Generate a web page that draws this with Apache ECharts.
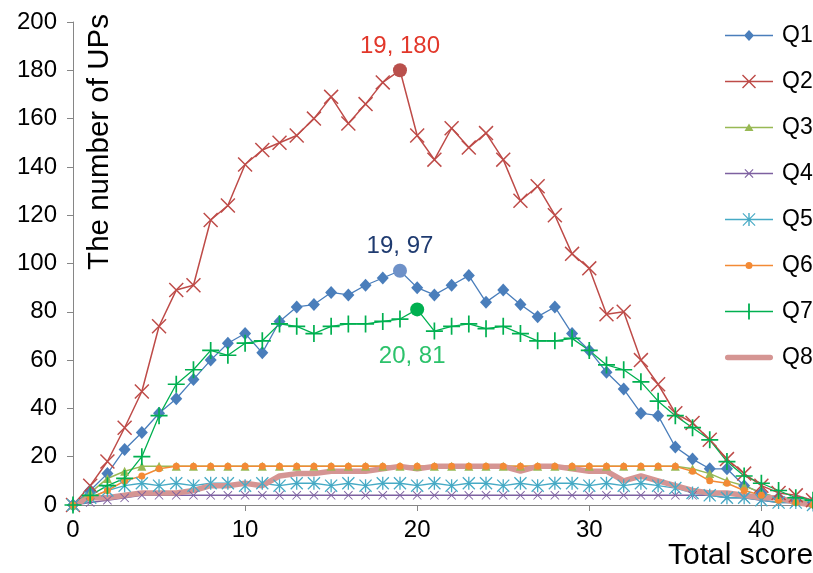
<!DOCTYPE html>
<html><head><meta charset="utf-8">
<script src="https://cdn.jsdelivr.net/npm/echarts@6/dist/echarts.min.js"></script>
<style>html,body{margin:0;padding:0;background:#fff}#c{width:813px;height:573px}</style>
</head><body><div id="c"></div>
<script>
const scores = [0,1,2,3,4,5,6,7,8,9,10,11,12,13,14,15,16,17,18,19,20,21,22,23,24,25,26,27,28,29,30,31,32,33,34,35,36,37,38,39,40,41,42,43];
const Q1 = [0,6,13,23,30,38,44,52,60,67,71,63,76,82,83,88,87,91,94,97,90,87,91,95,84,89,83,78,82,71,64,55,48,38,37,24,19,15,15,8,5,3,2,1];
const Q2 = [0,8,18,32,47,74,89,91,118,124,141,147,150,153,160,169,158,166,175,180,153,143,156,148,154,143,126,132,120,104,98,79,80,60,50,38,34,27,19,13,8,5,4,2];
const Q3 = [0,5,11,14,16,16,16,16,16,16,16,16,16,16,16,16,16,16,16,16,16,16,16,16,16,16,16,16,16,16,16,16,16,16,16,16,15,13,10,8,5,3,2,1];
const Q4 = [0,1,2,3,4,4,4,4,4,4,4,4,4,4,4,4,4,4,4,4,4,4,4,4,4,4,4,4,4,4,4,4,4,4,4,4,4,4,3,3,2,1,1,0];
const Q5 = [0,3,6,8,9,8,9,8,9,9,8,9,8,9,9,8,9,8,9,9,8,9,8,9,9,8,9,8,9,9,8,9,8,9,8,7,5,4,3,3,2,1,1,0];
const Q6 = [0,3,6,10,12,15,16,16,16,16,16,16,16,16,16,16,16,16,16,16,16,16,16,16,16,16,16,16,16,16,16,16,16,16,16,16,14,10,9,6,4,2,1,0];
const Q7 = [0,4,8,11,20,37,50,56,64,62,67,68,75,74,71,74,75,75,76,77,81,72,74,75,73,74,71,68,68,69,64,58,56,51,43,37,32,27,18,12,9,6,3,2];
const Q8 = [0,3,3,4,5,5,5,6,8,8,9,8,12,13,13,14,14,14,15,16,15,16,16,16,16,16,14,16,16,15,14,14,10,12,10,8,6,5,5,4,3,3,1,0];
const xTicks = [0,10,20,30,40];
const yTicks = [0,20,40,60,80,100,120,140,160,180,200];
// highlighted maxima: series name, score
const highlights = [
  {name:'Q2', score:19, color:'#B9504C', label:'#E2372A', pos:'top', dist:5, off:[0,0]},
  {name:'Q1', score:19, color:'#6E91C8', label:'#1F3B70', pos:'top', dist:5, off:[0,0]},
  {name:'Q7', score:20, color:'#00B050', label:'#2CC26B', pos:'bottom', dist:28, off:[-5,0]}
];

const FONT = 'Liberation Sans';
// series marker shapes
const X_PATH = 'path://M0,1.4L1.4,0L20,18.6L18.6,20ZM18.6,0L20,1.4L1.4,20L0,18.6Z';
const PLUS_PATH = 'path://M9,0H11V20H9ZM0,9H20V11H0Z';
const STAR_PATH = 'path://M0,1.4L1.4,0L20,18.6L18.6,20ZM18.6,0L20,1.4L1.4,20L0,18.6ZM9,0H11V20H9Z';
// legend icons (48 x 16 box: line + marker)
const BOX = 'M0,-1L0,-1M48,15L48,15';
const LINE = 'M0,6.2H48V7.8H0Z';
const LEG = {
  Q1: 'path://' + BOX + LINE + 'M24,1.5L29,7L24,12.5L19,7Z',
  Q2: 'path://' + BOX + LINE + 'M17,1L18,0L31,13L30,14ZM30,0L31,1L18,14L17,13Z',
  Q3: 'path://' + BOX + LINE + 'M24,3L28.5,10.5L19.5,10.5Z',
  Q4: 'path://' + BOX + LINE + 'M19.5,3.3L20.3,2.5L28.5,10.7L27.7,11.5ZM27.7,2.5L28.5,3.3L20.3,11.5L19.5,10.7Z',
  Q5: 'path://' + BOX + LINE + 'M17.5,1.3L18.3,0.5L30.5,12.7L29.7,13.5ZM29.7,0.5L30.5,1.3L18.3,13.5L17.5,12.7ZM23.3,0.5H24.7V13.5H23.3Z',
  Q6: 'path://' + BOX + LINE + 'M20.5,7A3.5,3.5,0,1,1,27.5,7A3.5,3.5,0,1,1,20.5,7Z',
  Q7: 'path://' + BOX + LINE + 'M23.1,-1H24.9V15H23.1Z',
  Q8: 'path://' + BOX + 'M2.5,4.3H45.5A2.7,2.7,0,0,1,45.5,9.7H2.5A2.7,2.7,0,0,1,2.5,4.3Z'
};

const defs = [
  {name:'Q1', data:Q1, color:'#4A7EBB', symbol:'diamond', size:[12,13], lw:1.3},
  {name:'Q2', data:Q2, color:'#BE4B48', symbol:X_PATH, size:15, lw:1.5},
  {name:'Q3', data:Q3, color:'#98B954', symbol:'triangle', size:9, lw:1.5},
  {name:'Q4', data:Q4, color:'#7D60A0', symbol:X_PATH, size:9, lw:1.5},
  {name:'Q5', data:Q5, color:'#46AAC5', symbol:STAR_PATH, size:13, lw:1.3},
  {name:'Q6', data:Q6, color:'#F38A35', symbol:'circle', size:7, lw:1.5},
  {name:'Q7', data:Q7, color:'#00B050', symbol:PLUS_PATH, size:17, lw:1.3},
  {name:'Q8', data:Q8, color:'#D59593', symbol:'none', size:0, lw:5.5}
];

const series = defs.map(d => {
  const data = scores.map((s, i) => {
    const h = highlights.find(hh => hh.name === d.name && hh.score === s);
    if (!h) return [s, d.data[i]];
    return {
      value: [s, d.data[i]],
      symbol: 'circle', symbolSize: 14,
      itemStyle: {color: h.color},
      label: {show: true, position: h.pos, distance: h.dist, offset: h.off, color: h.label,
        fontFamily: FONT, fontSize: 24,
        formatter: p => p.value[0] + ', ' + p.value[1]}
    };
  });
  return {
    name: d.name, type: 'line', data: data,
    symbol: d.symbol, symbolSize: d.size, showSymbol: d.symbol !== 'none',
    itemStyle: {color: d.color},
    lineStyle: {color: d.color, width: d.lw},
    emphasis: {disabled: true},
    animation: false, z: 2
  };
});

const legendData = defs.map(d => ({name: d.name, icon: LEG[d.name], itemStyle: {color: d.color}}));

const chart = echarts.init(document.getElementById('c'));
chart.setOption({
  backgroundColor: '#fff',
  animation: false,
  grid: {left: 73, right: 0, top: 22, bottom: 68, containLabel: false},
  xAxis: {
    type: 'value', min: 0, max: 43, interval: 10,
    axisLine: {show: true, lineStyle: {color: '#868686', width: 1}},
    axisTick: {show: true, length: 6, lineStyle: {color: '#868686'}},
    splitLine: {show: false},
    axisLabel: {showMaxLabel: false, color: '#000', fontFamily: FONT, fontSize: 24, margin: 13,
      formatter: v => xTicks.indexOf(v) >= 0 ? String(v) : ''}
  },
  yAxis: {
    type: 'value', min: 0, max: 200, interval: 20,
    axisLine: {show: true, lineStyle: {color: '#868686', width: 1}},
    axisTick: {show: true, length: 6, lineStyle: {color: '#868686'}},
    splitLine: {show: false},
    axisLabel: {color: '#000', fontFamily: FONT, fontSize: 24, margin: 16,
      formatter: v => yTicks.indexOf(v) >= 0 ? String(v) : ''}
  },
  legend: {
    orient: 'vertical', left: 725, top: 24, padding: 0,
    itemWidth: 48, itemHeight: 16, itemGap: 23,
    textStyle: {color: '#000', fontFamily: FONT, fontSize: 23, padding: [0,0,0,4]},
    data: legendData
  },
  graphic: [
    {type: 'text', x: 100, y: 142, rotation: Math.PI / 2,
      style: {text: 'The number of UPs', fontFamily: FONT, fontSize: 29.5, fill: '#000',
        textAlign: 'center', textVerticalAlign: 'middle'}},
    {type: 'text', x: 668, y: 556,
      style: {text: 'Total score', fontFamily: FONT, fontSize: 30, fill: '#000',
        textAlign: 'left', textVerticalAlign: 'middle'}}
  ],
  series: series
});
</script>
</body></html>
